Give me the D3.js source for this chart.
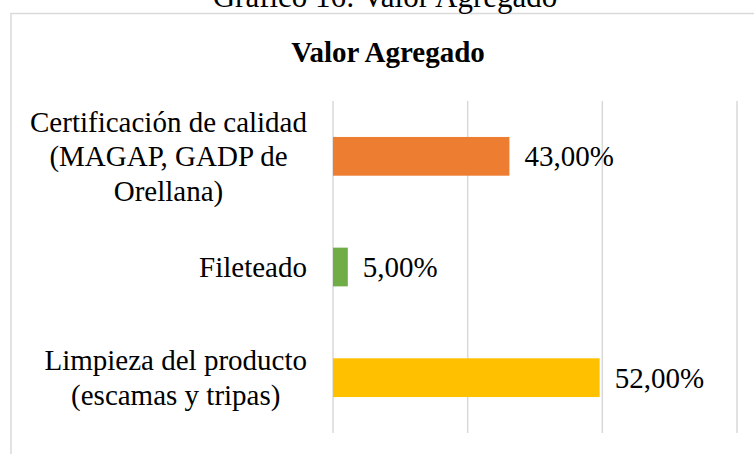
<!DOCTYPE html>
<html>
<head>
<meta charset="utf-8">
<script src="https://cdn.jsdelivr.net/npm/d3@7"></script>
<style>
  body { margin: 0; background: #fff; }
  text { font-family: "Liberation Serif", "Times New Roman", serif; fill: #000; }
</style>
</head>
<body>
<script>
// data (bar lengths in gridline units, labels as printed)
var categories = ["Certificación de calidad (MAGAP, GADP de Orellana)", "Fileteado", "Limpieza del producto (escamas y tripas)"];
var categoryLines = [["Certificación de calidad", "(MAGAP, GADP de", "Orellana)"], ["Fileteado"], ["Limpieza del producto", "(escamas y tripas)"]];
var barValues = [1.31, 0.11, 1.98];
var valueLabels = ["43,00%", "5,00%", "52,00%"];
var barColors = ["#ED7D31", "#70AD47", "#FFC000"];
var gridTicks = [0, 1, 2, 3];

var width = 754,
    height = 454;

var svg = d3.select("body")
    .append("svg")
    .attr("width", width)
    .attr("height", height);

// chart frame, runs off the right and bottom edges
svg.append("rect")
    .attr("x", 11)
    .attr("y", 13.5)
    .attr("width", 800)
    .attr("height", 500)
    .attr("fill", "#fff")
    .attr("stroke", "#d9d9d9")
    .attr("stroke-width", 1.5);

// caption above the frame (cut off at the top)
svg.append("text")
    .attr("x", 385)
    .attr("y", 7)
    .attr("text-anchor", "middle")
    .style("font-size", "31px")
    .text("Gráfico 16: Valor Agregado");

svg.append("text")
    .attr("x", 388)
    .attr("y", 62)
    .attr("text-anchor", "middle")
    .style("font-size", "29px")
    .style("font-weight", "bold")
    .text("Valor Agregado");

var x = d3.scaleLinear()
    .domain([0, 3])
    .range([333, 737]);

var y = d3.scaleBand()
    .domain(categories)
    .range([101, 433])
    .paddingInner(0.65)
    .paddingOuter(0.325);

// vertical gridlines
svg.append("g")
    .selectAll("line")
    .data(gridTicks)
    .enter()
    .append("line")
    .attr("x1", function(d){ return x(d); })
    .attr("x2", function(d){ return x(d); })
    .attr("y1", 101)
    .attr("y2", 433)
    .attr("stroke", "#d9d9d9")
    .attr("stroke-width", 1.5);

// bars
svg.append("g")
    .selectAll("rect")
    .data(categories)
    .enter()
    .append("rect")
    .attr("x", x(0))
    .attr("y", function(d){ return y(d); })
    .attr("width", function(d, i){ return x(barValues[i]) - x(0); })
    .attr("height", y.bandwidth())
    .attr("fill", function(d, i){ return barColors[i]; });

// value labels
svg.append("g")
    .selectAll("text")
    .data(categories)
    .enter()
    .append("text")
    .attr("x", function(d, i){ return x(barValues[i]) + 15; })
    .attr("y", function(d){ return y(d) + y.bandwidth() / 2 + 10; })
    .style("font-size", "29px")
    .text(function(d, i){ return valueLabels[i]; });

// category labels: block right-aligned at 307, lines centred inside block
var lineH = 34.5,
    labelRight = 307;

categories.forEach(function(c, i){
    var lines = categoryLines[i];
    var cy = y(c) + y.bandwidth() / 2;
    var g = svg.append("g");
    var texts = g.selectAll("text")
        .data(lines)
        .enter()
        .append("text")
        .attr("text-anchor", "middle")
        .attr("y", function(d, j){ return cy + (j - (lines.length - 1) / 2) * lineH + 10; })
        .style("font-size", "29px")
        .text(function(d){ return d; });
    var maxW = 0;
    texts.each(function(){ maxW = Math.max(maxW, this.getComputedTextLength()); });
    texts.attr("x", labelRight - maxW / 2);
});
</script>
</body>
</html>
